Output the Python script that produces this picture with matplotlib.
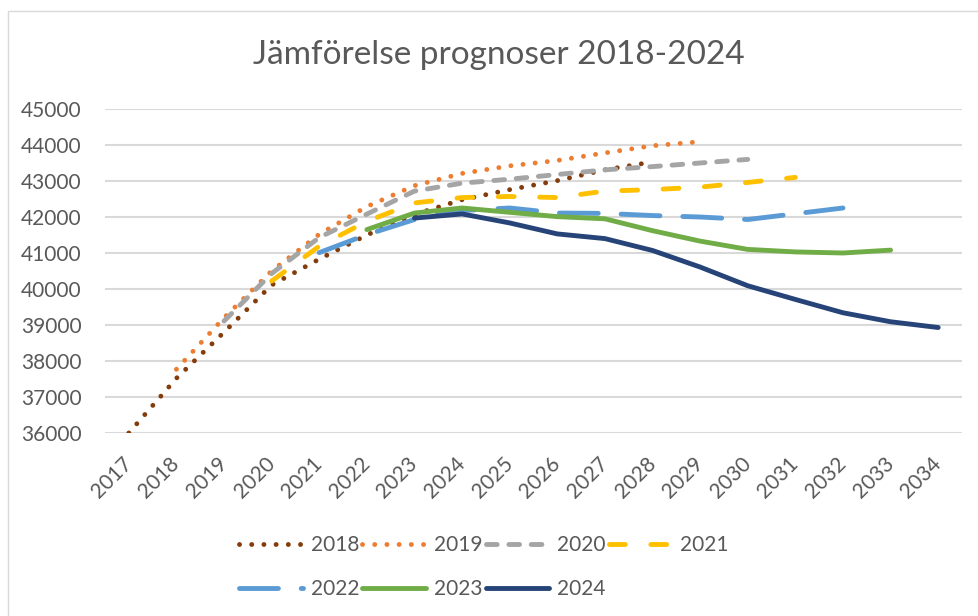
import numpy as np
import matplotlib
matplotlib.use('Agg')
import matplotlib.pyplot as plt
from matplotlib.patches import Rectangle

plt.rcParams['font.family'] = ['Lato', 'DejaVu Sans']

# kategorier (år)
years = list(range(2017, 2035))

# prognoser, en serie per prognosår
p2018 = [36000, 37520, 38800, 40110, 40830, 41500, 42070, 42480, 42760, 43010, 43310, 43530]
p2019 = [37770, 39200, 40500, 41520, 42290, 42870, 43210, 43420, 43570, 43780, 43980, 44090]
p2020 = [39110, 40430, 41430, 42080, 42720, 42940, 43050, 43180, 43310, 43400, 43500, 43600]
p2021 = [40220, 41190, 41880, 42390, 42540, 42570, 42540, 42720, 42760, 42830, 42960, 43100]
p2022 = [41010, 41510, 41930, 42180, 42250, 42110, 42100, 42040, 42000, 41930, 42090, 42250]
p2023 = [41650, 42110, 42250, 42130, 42010, 41950, 41620, 41330, 41100, 41030, 41000, 41080]
p2024 = [41970, 42085, 41835, 41530, 41400, 41070, 40610, 40090, 39710, 39340, 39090, 38930]

start_year = {'2018': 2017, '2019': 2018, '2020': 2019, '2021': 2020,
              '2022': 2021, '2023': 2022, '2024': 2023}
series = {'2018': p2018, '2019': p2019, '2020': p2020, '2021': p2021,
          '2022': p2022, '2023': p2023, '2024': p2024}

colors = {'2018': '#843C0C', '2019': '#ED7D31', '2020': '#A5A5A5', '2021': '#FFC000',
          '2022': '#5B9BD5', '2023': '#70AD47', '2024': '#264478'}
styles = {'2018': (0, (0.01, 2.5)), '2019': (0, (0.01, 2.5)), '2020': (0, (2.2, 2.4)),
          '2021': (0, (3.25, 5.25)), '2022': (0, (8.0, 4.7)), '2023': '-', '2024': '-'}

txt = '#595959'
lw = 3.5

fig = plt.figure(figsize=(9.79, 6.16), dpi=100)
fig.patches.append(Rectangle((8 / 979, -0.1), 1.2, 1 - 11 / 616 + 0.1, transform=fig.transFigure,
                             fill=False, edgecolor='#D9D9D9', linewidth=1))
ax = fig.add_axes([105 / 979, 1 - 433 / 616, 857 / 979, 324 / 616])

lines = {}
for name, vals in series.items():
    s = years.index(start_year[name])
    x = np.arange(s, s + len(vals))
    ln, = ax.plot(x, vals, color=colors[name], linestyle=styles[name], linewidth=lw,
                  dash_capstyle='round', solid_capstyle='round', label=name)
    lines[name] = ln

ax.set_xlim(-0.5, len(years) - 0.5)
ax.set_ylim(36000, 45000)
ax.set_yticks(range(36000, 45001, 1000))
ax.set_xticks(range(len(years)))
ax.set_xticklabels([str(y) for y in years], rotation=45, ha='right', va='center',
                   rotation_mode='anchor')
ax.tick_params(axis='both', length=0, labelsize=15, colors=txt)
ax.tick_params(axis='y', pad=17)
ax.tick_params(axis='x', pad=20)
ax.grid(axis='y', color='#D9D9D9', linewidth=1.5)
ax.set_axisbelow(True)
for sp in ax.spines.values():
    sp.set_visible(False)

fig.text(499 / 979, 1 - 55 / 616, 'Jämförelse prognoser 2018-2024', ha='center', va='center',
         fontsize=24, color=txt)

# legend fylls kolumnvis, så ordna om för radvis läsning
order = ['2018', '2022', '2019', '2023', '2020', '2024', '2021']
leg = fig.legend([lines[k] for k in order], order, ncol=4, loc='center',
                 bbox_to_anchor=(484 / 979, 1 - 567 / 616), frameon=False,
                 fontsize=15, handlelength=3.05, handletextpad=0.38, columnspacing=0.15,
                 labelspacing=1.15, borderpad=0)
for t in leg.get_texts():
    t.set_color(txt)

fig.savefig('out.png', dpi=100)
